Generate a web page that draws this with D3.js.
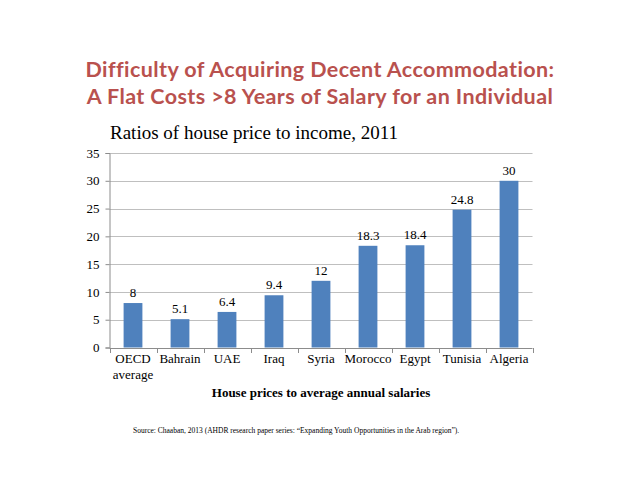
<!DOCTYPE html>
<html>
<head>
<meta charset="utf-8">
<script src="https://cdn.jsdelivr.net/npm/d3@7"></script>
<style>
  body { margin: 0; background: #fff; }
  svg { display: block; }
</style>
</head>
<body>
<svg id="chart" width="638" height="493"></svg>
<script>
"use strict";

const categories = ["OECD average", "Bahrain", "UAE", "Iraq", "Syria", "Morocco", "Egypt", "Tunisia", "Algeria"];
const ratios = [8, 5.1, 6.4, 9.4, 12, 18.3, 18.4, 24.8, 30];
const yTicks = [0, 5, 10, 15, 20, 25, 30, 35];
const titleLines = [
    "Difficulty of Acquiring Decent Accommodation:",
    "A Flat Costs >8 Years of Salary for an Individual"
];

const svg = d3.select("#chart");
const serif = "'Liberation Serif', 'Times New Roman', serif";
const margin = { left: 109.5, right: 532.5, top: 153, bottom: 347.5 };

// slide heading
svg.append("g")
    .selectAll("text")
    .data(titleLines)
    .join("text")
    .attr("x", 320)
    .attr("y", (d, i) => 77 + i * 27)
    .attr("text-anchor", "middle")
    .attr("font-family", "Lato, 'Open Sans', sans-serif")
    .attr("font-weight", "bold")
    .attr("font-size", 21.5)
    .attr("letter-spacing", 0.4)
    .attr("fill", "#b9514e")
    .text((d) => d);

const x = d3.scaleBand()
    .domain(categories)
    .range([margin.left, margin.right])
    .paddingInner(0.6)
    .paddingOuter(0.3);

const y = d3.scaleLinear()
    .domain([0, 35])
    .range([margin.bottom, margin.top]);

// gridlines
svg.append("g")
    .selectAll("line")
    .data(yTicks.filter((t) => t > 0))
    .join("line")
    .attr("x1", margin.left)
    .attr("x2", margin.right)
    .attr("y1", (d) => Math.round(y(d)) + 0.5)
    .attr("y2", (d) => Math.round(y(d)) + 0.5)
    .attr("stroke", "#bfbfbf")
    .attr("stroke-width", 1);

// y axis
const yAxis = svg.append("g")
    .attr("transform", `translate(${margin.left},0)`)
    .call(d3.axisLeft(y).tickValues(yTicks).tickSize(4).tickPadding(6));
yAxis.select(".domain").attr("stroke", "#8c8c8c");
yAxis.selectAll(".tick line").attr("stroke", "#8c8c8c");
yAxis.selectAll("text")
    .attr("font-family", serif)
    .attr("font-size", 13)
    .attr("fill", "#000");

// bars
svg.append("g")
    .selectAll("rect")
    .data(ratios)
    .join("rect")
    .attr("x", (d, i) => x(categories[i]))
    .attr("y", (d) => y(d))
    .attr("width", x.bandwidth())
    .attr("height", (d) => y(0) - y(d))
    .attr("fill", "#4f81bd");

// data labels
svg.append("g")
    .selectAll("text")
    .data(ratios)
    .join("text")
    .attr("x", (d, i) => x(categories[i]) + x.bandwidth() / 2)
    .attr("y", (d) => y(d) - 6)
    .attr("text-anchor", "middle")
    .attr("font-family", serif)
    .attr("font-size", 13)
    .attr("fill", "#000")
    .text((d) => d);

// x axis with ticks on the category boundaries
const xAxisG = svg.append("g");
xAxisG.append("line")
    .attr("x1", margin.left)
    .attr("x2", margin.right)
    .attr("y1", Math.round(y(0)) + 0.5)
    .attr("y2", Math.round(y(0)) + 0.5)
    .attr("stroke", "#8c8c8c");
xAxisG.selectAll(".bound")
    .data(d3.range(categories.length + 1))
    .join("line")
    .attr("class", "bound")
    .attr("x1", (i) => Math.round(margin.left + i * (margin.right - margin.left) / categories.length) + 0.5)
    .attr("x2", (i) => Math.round(margin.left + i * (margin.right - margin.left) / categories.length) + 0.5)
    .attr("y1", Math.round(y(0)))
    .attr("y2", Math.round(y(0)) + 5)
    .attr("stroke", "#8c8c8c");

xAxisG.selectAll(".cat")
    .data(categories)
    .join("text")
    .attr("class", "cat")
    .attr("x", (d) => x(d) + x.bandwidth() / 2)
    .attr("y", 363)
    .attr("text-anchor", "middle")
    .attr("font-family", serif)
    .attr("font-size", 13)
    .attr("fill", "#000")
    .each(function(d) {
        const words = d === "OECD average" ? ["OECD", "average"] : [d];
        d3.select(this).selectAll("tspan")
            .data(words)
            .join("tspan")
            .attr("x", x(d) + x.bandwidth() / 2)
            .attr("dy", (w, i) => (i === 0 ? 0 : 16))
            .text((w) => w);
    });

// chart title
svg.append("text")
    .attr("x", 110)
    .attr("y", 139)
    .attr("font-family", serif)
    .attr("font-size", 19)
    .attr("fill", "#000")
    .text("Ratios of house price to income, 2011");

// axis title
svg.append("text")
    .attr("x", 321)
    .attr("y", 397)
    .attr("text-anchor", "middle")
    .attr("font-family", serif)
    .attr("font-weight", "bold")
    .attr("font-size", 13)
    .attr("fill", "#000")
    .text("House prices to average annual salaries");

// source note
svg.append("text")
    .attr("x", 133)
    .attr("y", 433)
    .attr("font-family", serif)
    .attr("font-size", 7.5)
    .attr("fill", "#000")
    .text("Source: Chaaban, 2013 (AHDR research paper series: \u201cExpanding Youth Opportunities in the Arab region\u201d).");
</script>
</body>
</html>
